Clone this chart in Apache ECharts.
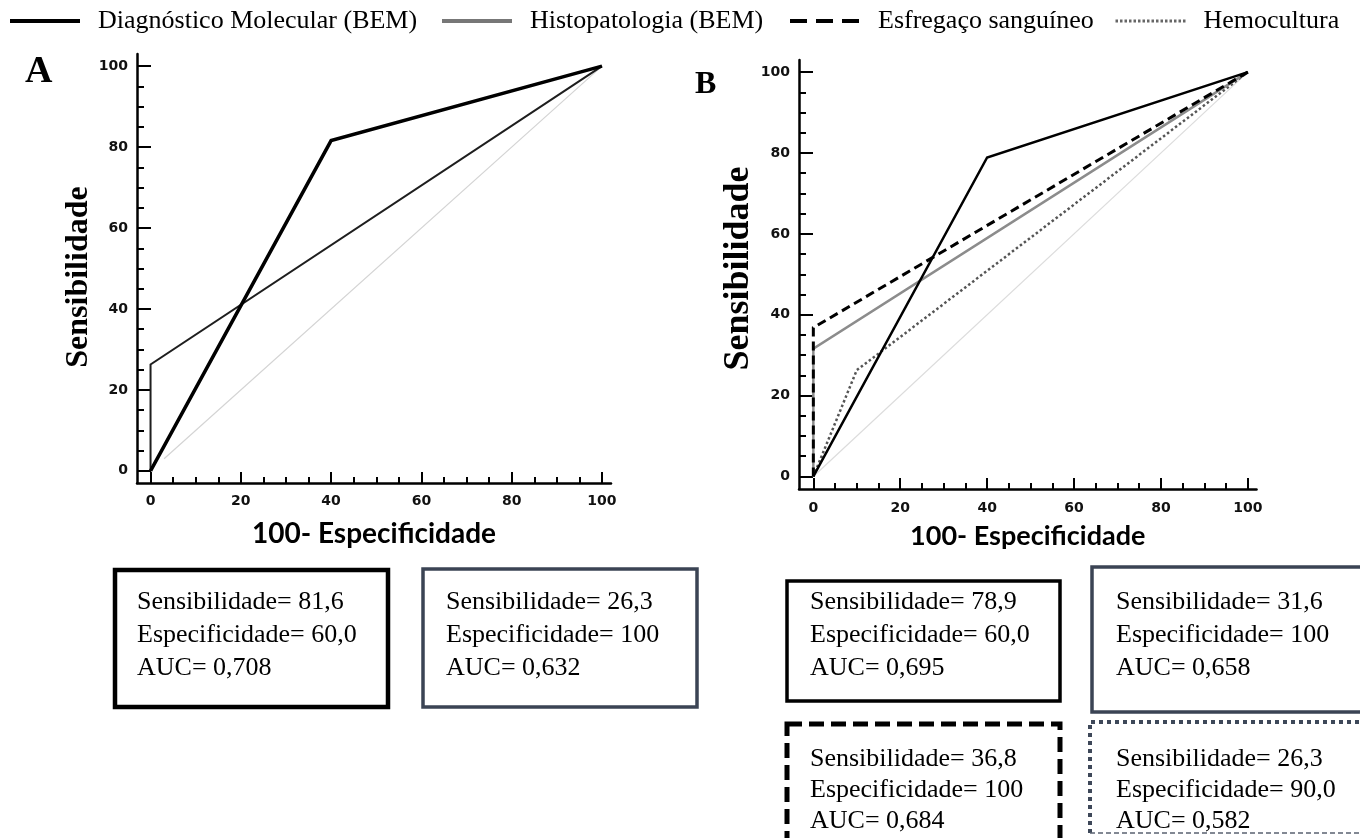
<!DOCTYPE html>
<html>
<head>
<meta charset="utf-8">
<script src="https://cdn.jsdelivr.net/npm/echarts@6/dist/echarts.min.js"></script>
<style>
html,body{margin:0;padding:0;background:#fff;}
#chart{width:1360px;height:838px;}
</style>
</head>
<body>
<div id="chart"></div>
<script>
// ---- data ----
const seriesNames = ['Diagnóstico Molecular (BEM)', 'Histopatologia (BEM)', 'Esfregaço sanguíneo', 'Hemocultura'];
const majorTicks = [0, 20, 40, 60, 80, 100];
const minorTicks = [0, 5, 10, 15, 20, 25, 30, 35, 40, 45, 50, 55, 60, 65, 70, 75, 80, 85, 90, 95, 100];
const xAxisTitle = '100- Especificidade';
const yAxisTitle = 'Sensibilidade';
const panelLabels = ['A', 'B'];

// ROC curves: [100-especificidade, sensibilidade]
const rocA_molecular = [[0, 0], [40, 81.6], [100, 100]];
const rocA_histo = [[0, 0], [0, 26.3], [100, 100]];
const rocA_chance = [[3, 3], [100, 100]];

const rocB_molecular = [[0, 0], [40, 78.9], [100, 100]];
const rocB_histo = [[0, 0], [0, 31.6], [100, 100]];
const rocB_esfregaco = [[0, 0], [0, 36.8], [100, 100]];
const rocB_hemocultura = [[0, 0], [10, 26.3], [100, 100]];
const rocB_chance = [[0, 0], [100, 100]];

// statistics boxes (A-molecular, A-histo, B-molecular, B-histo, B-esfregaço, B-hemocultura)
const boxSens = ['81,6', '26,3', '78,9', '31,6', '36,8', '26,3'];
const boxSpec = ['60,0', '100', '60,0', '100', '100', '90,0'];
const boxAUC = ['0,708', '0,632', '0,695', '0,658', '0,684', '0,582'];

// ---- styles / layout ----
const serif = '"Liberation Serif", "Times New Roman", serif';
const tickFont = {fontFamily: '"DejaVu Sans", Verdana, sans-serif', fontWeight: 'bold', fontSize: 14, color: '#111'};

function makeAxes(gridIndex, pos, min, max, minorLen, majorLen, labelMargin, name, nameGap, nameStyle) {
  const base = {
    gridIndex: gridIndex, type: 'value', min: min, max: max, position: pos,
    splitLine: {show: false}
  };
  const minor = Object.assign({}, base, {
    axisLine: {show: true, onZero: false, lineStyle: {color: '#000', width: 2.5}},
    axisTick: {show: true, inside: true, length: minorLen, customValues: minorTicks, lineStyle: {color: '#000', width: 2}},
    axisLabel: Object.assign({show: true, customValues: majorTicks, margin: labelMargin}, tickFont),
    name: name, nameLocation: 'middle', nameGap: nameGap, nameTextStyle: nameStyle
  });
  const major = Object.assign({}, base, {
    axisLine: {show: false, onZero: false},
    axisTick: {show: true, inside: true, length: majorLen, customValues: majorTicks, lineStyle: {color: '#000', width: 2}},
    axisLabel: {show: false}
  });
  return [minor, major];
}

const xAxes = [].concat(
  makeAxes(0, 'bottom', -3, 102, 6, 11, 11, xAxisTitle, 37,
    {fontFamily: 'Lato, "Open Sans", sans-serif', fontWeight: 'bold', fontSize: 28, color: '#000'}),
  makeAxes(1, 'bottom', -3.3, 102, 6, 11, 12, xAxisTitle, 34,
    {fontFamily: 'Lato, "Open Sans", sans-serif', fontWeight: 'bold', fontSize: 27, color: '#000'})
);
const yAxes = [].concat(
  makeAxes(0, 'left', -3, 103, 7, 14, 9, yAxisTitle, 31,
    {fontFamily: serif, fontWeight: 'bold', fontSize: 32, color: '#000', padding: [0, 17, 0, 0]}),
  makeAxes(1, 'left', -3.1, 103, 7, 14, 9, yAxisTitle, 37,
    {fontFamily: serif, fontWeight: 'bold', fontSize: 36, color: '#000', padding: [0, 0, 0, 12]})
);

function line(name, data, xi, yi, color, width, type, z) {
  return {
    name: name, type: 'line', data: data, xAxisIndex: xi, yAxisIndex: yi,
    symbol: 'none', showSymbol: false, silent: true, z: z,
    lineStyle: {color: color, width: width, type: type, cap: 'butt', join: 'miter'}
  };
}

const series = [
  line('', rocA_chance, 0, 0, '#d4d4d4', 1.2, 'solid', 2),
  line(seriesNames[1], rocA_histo, 0, 0, '#1e1e1e', 2, 'solid', 3),
  line(seriesNames[0], rocA_molecular, 0, 0, '#000', 3.5, 'solid', 4),

  line('', rocB_chance, 2, 2, '#dcdcdc', 1.2, 'solid', 2),
  line(seriesNames[3], rocB_hemocultura, 2, 2, '#555', 2.5, [2.5, 2.5], 3),
  line(seriesNames[1], rocB_histo, 2, 2, '#8c8c8c', 2.5, 'solid', 4),
  line(seriesNames[2], rocB_esfregaco, 2, 2, '#000', 3, [9, 5], 5),
  line(seriesNames[0], rocB_molecular, 2, 2, '#000', 2.5, 'solid', 6)
];

const legendStyles = [
  {color: '#000', width: 4, type: 'solid'},
  {color: '#777', width: 4, type: 'solid'},
  {color: '#000', width: 4, type: [17, 9]},
  {color: '#666', width: 3, type: [2.5, 2]}
];
const legendLeft = [8, 440, 788, 1114];
const legends = seriesNames.map(function (n, i) {
  return {
    data: [{name: n, lineStyle: legendStyles[i], itemStyle: {color: 'rgba(0,0,0,0)', borderWidth: 0, opacity: 0}}],
    left: legendLeft[i], top: 8, padding: 0, itemWidth: 70, itemHeight: 14,
    selectedMode: false,
    textStyle: {fontFamily: serif, fontSize: 26, color: '#000', padding: [0, 0, 0, 13]}
  };
});

// boxes
const boxes = [
  {x: 115, y: 570, w: 273, h: 137, stroke: '#000', lw: 4.5, dash: null, tx: 137, ty: 586, lh: 33},
  {x: 423, y: 569, w: 274, h: 138, stroke: '#3b4454', lw: 3.5, dash: null, tx: 446, ty: 586, lh: 33},
  {x: 787, y: 581, w: 273, h: 120, stroke: '#000', lw: 3.5, dash: null, tx: 810, ty: 586, lh: 33},
  {x: 1092, y: 567, w: 290, h: 145, stroke: '#3b4454', lw: 3.5, dash: null, tx: 1116, ty: 586, lh: 33},
  {x: 787, y: 724, w: 273, h: 140, stroke: '#000', lw: 5, dash: [15, 7], tx: 810, ty: 744, lh: 31},
  {x: 1090, y: 722, w: 290, h: 111, stroke: '#3e4859', lw: 4, dash: [4, 4], tx: 1116, ty: 744, lh: 31, openBottom: true}
];
const graphics = [];
boxes.forEach(function (b, i) {
  if (b.openBottom) {
    graphics.push({
      type: 'polyline', silent: true,
      shape: {points: [[b.x, b.y + b.h], [b.x, b.y], [b.x + b.w, b.y], [b.x + b.w, b.y + b.h]]},
      style: {fill: 'none', stroke: b.stroke, lineWidth: b.lw, lineDash: b.dash}
    });
    graphics.push({
      type: 'line', silent: true,
      shape: {x1: b.x, y1: b.y + b.h, x2: b.x + b.w, y2: b.y + b.h},
      style: {stroke: '#5a6270', lineWidth: 1.5, lineDash: [5, 3]}
    });
  } else {
    graphics.push({
      type: 'rect', silent: true,
      shape: {x: b.x, y: b.y, width: b.w, height: b.h},
      style: {fill: 'none', stroke: b.stroke, lineWidth: b.lw, lineDash: b.dash}
    });
  }
  graphics.push({
    type: 'text', silent: true, x: b.tx, y: b.ty,
    style: {
      text: 'Sensibilidade= ' + boxSens[i] + '\nEspecificidade= ' + boxSpec[i] + '\nAUC= ' + boxAUC[i],
      fontFamily: serif, fontSize: 26, lineHeight: b.lh, fill: '#000', verticalAlign: 'top'
    }
  });
});

const option = {
  animation: false,
  backgroundColor: '#fff',
  title: [
    {text: panelLabels[0], left: 25, top: 53, padding: 0,
      textStyle: {fontFamily: serif, fontWeight: 'bold', fontSize: 38, color: '#000'}},
    {text: panelLabels[1], left: 695, top: 69, padding: 0,
      textStyle: {fontFamily: serif, fontWeight: 'bold', fontSize: 32, color: '#000'}}
  ],
  legend: legends,
  grid: [
    {left: 137, top: 54, width: 474, height: 429, containLabel: false},
    {left: 799, top: 60, width: 457.5, height: 429, containLabel: false}
  ],
  xAxis: xAxes,
  yAxis: yAxes,
  series: series,
  graphic: graphics
};

const chart = echarts.init(document.getElementById('chart'), null, {renderer: 'canvas'});
chart.setOption(option);
</script>
</body>
</html>
